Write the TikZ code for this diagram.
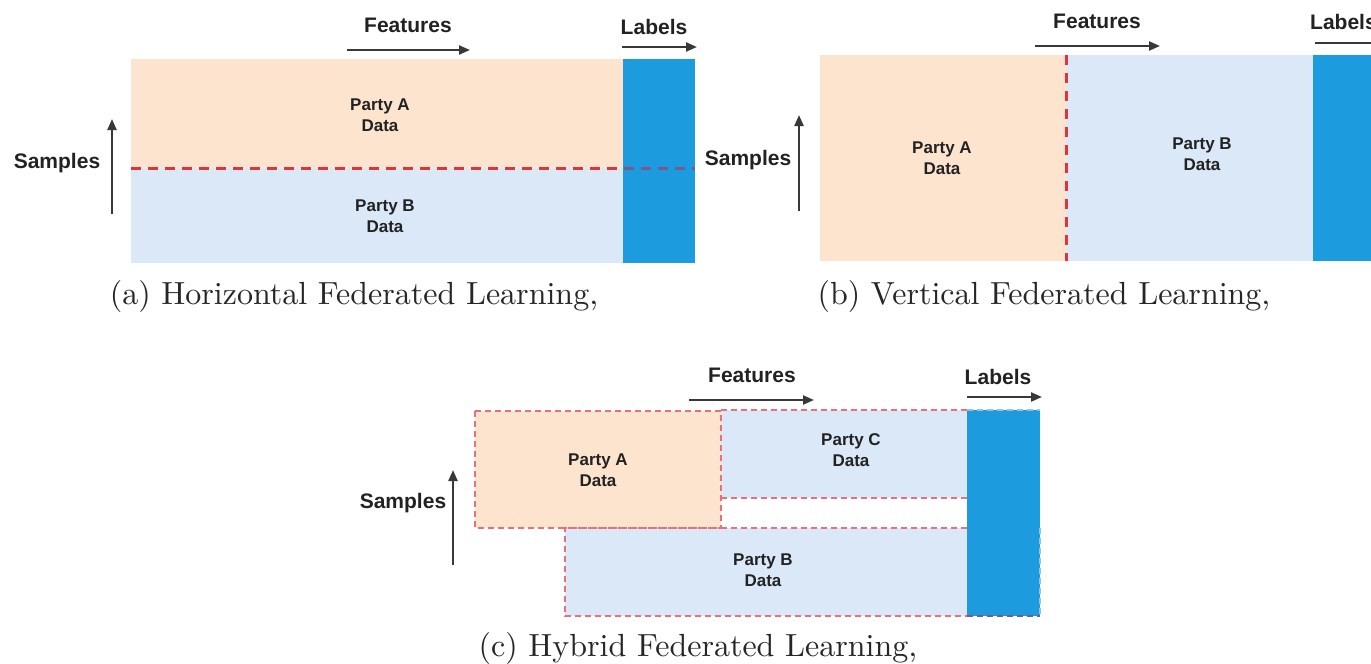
\documentclass[tikz,border=0pt]{standalone}
\usepackage{fontspec}
\newfontfamily\labfont{Liberation Sans}
\newfontfamily\capfont{lmroman10-regular}[Extension=.otf]
\usetikzlibrary{arrows.meta}

\definecolor{partyA}{HTML}{FDE4CF}
\definecolor{partyB}{HTML}{DAE8F8}
\definecolor{labelcol}{HTML}{1C9CDF}
\definecolor{cut}{HTML}{E0333A}
\definecolor{cutlight}{HTML}{E8707A}
\definecolor{cutover}{HTML}{7A5A8C}
\definecolor{edgeover}{HTML}{8FC4EA}
\definecolor{ink}{HTML}{222222}

\tikzset{
  axislabel/.style={font=\labfont\bfseries\fontsize{21}{24}\selectfont, text=ink, inner sep=0pt},
  partytext/.style={font=\labfont\bfseries\fontsize{17}{21}\selectfont, text=ink, align=center, inner sep=0pt},
  axisarrow/.style={draw=ink!90, line width=2.2pt, -{Triangle[length=11pt,width=9pt]}},
  captiontext/.style={font=\capfont\fontsize{32}{38}\selectfont, text=black!85, inner sep=0pt},
  splitline/.style={draw=cut, line width=3pt, dash pattern=on 10pt off 7pt},
  outline/.style={draw=cutlight, line width=1.9pt, dash pattern=on 6pt off 4pt},
}

\begin{document}
\begin{tikzpicture}[x=1pt, y=-1pt]
\clip (0,0) rectangle (1371,664);
\fill[white] (0,0) rectangle (1371,664);

% ---------------- (a) horizontal federated learning ----------------
\fill[partyA]   (131,59)  rectangle (623,168);
\fill[partyB]   (131,168) rectangle (623,263);
\fill[labelcol] (623,59)  rectangle (695,263);
\draw[splitline] (131,168) -- (623,168);
\draw[splitline, draw=cutover, dash phase=16pt] (623,168) -- (695,168);

\node[partytext] (aA) at (380,115) {Party A\\Data};
\node[partytext] (aB) at (385,216) {Party B\\Data};

\node[axislabel] (aFeat) at (408,25) {Features};
\coordinate (aF1) at (347,50);
\coordinate (aF2) at (470,50);
\draw[axisarrow] (aF1) -- (aF2);

\node[axislabel] (aLab) at (654,27) {Labels};
\coordinate (aL1) at (622,47);
\coordinate (aL2) at (697,47);
\draw[axisarrow] (aL1) -- (aL2);

\node[axislabel] (aSam) at (57,163) {Samples};
\coordinate (aS1) at (112,214);
\coordinate (aS2) at (112,119);
\draw[axisarrow] (aS1) -- (aS2);

\node[captiontext] (capA) at (354,296) {(a) Horizontal Federated Learning,};

% ---------------- (b) vertical federated learning ----------------
\fill[partyA]   (820,55)  rectangle (1066,261);
\fill[partyB]   (1066,55) rectangle (1313,261);
\fill[labelcol] (1313,55) rectangle (1380,261);
\draw[splitline, dash pattern=on 10pt off 8pt] (1066,55) -- (1066,261);

\node[partytext] (bA) at (942,158) {Party A\\Data};
\node[partytext] (bB) at (1202,154) {Party B\\Data};

\node[axislabel] (bFeat) at (1097,21) {Features};
\coordinate (bF1) at (1035,46);
\coordinate (bF2) at (1160,46);
\draw[axisarrow] (bF1) -- (bF2);

% the label column continues past the right edge, so its heading is cut
\node[axislabel, anchor=west] (bLab) at (1310,22) {Labels};
\coordinate (bL1) at (1315,43);
\coordinate (bL2) at (1395,43);
\draw[axisarrow] (bL1) -- (bL2);

\node[axislabel] (bSam) at (748,160) {Samples};
\coordinate (bS1) at (799,211);
\coordinate (bS2) at (799,115);
\draw[axisarrow] (bS1) -- (bS2);

\node[captiontext] (capB) at (1044,296) {(b) Vertical Federated Learning,};

% ---------------- (c) hybrid federated learning ----------------
\fill[partyA]   (475,411) rectangle (721,528);
\fill[partyB]   (721,410) rectangle (967,498);
\fill[partyB]   (565,528) rectangle (967,616);
\fill[labelcol] (967,410) rectangle (1040,616);

% party outlines
\draw[outline] (475,411) rectangle (721,528);
\draw[outline] (721,410) -- (967,410);
\draw[outline] (721,498) -- (967,498);
\draw[outline] (967,528) -- (565,528) -- (565,616) -- (967,616);
% outline parts running over the label column
\draw[outline, draw=edgeover] (967,410) -- (1040,410);
\draw[outline, draw=edgeover] (1040,528) -- (1040,616);
\draw[outline, draw=cutover] (967,616) -- (1040,616);

\node[partytext] (cA) at (598,470) {Party A\\Data};
\node[partytext] (cC) at (851,450) {Party C\\Data};
\node[partytext] (cB) at (763,570) {Party B\\Data};

\node[axislabel] (cFeat) at (752,375) {Features};
\coordinate (cF1) at (689,400);
\coordinate (cF2) at (814,400);
\draw[axisarrow] (cF1) -- (cF2);

\node[axislabel] (cLab) at (998,377) {Labels};
\coordinate (cL1) at (967,397);
\coordinate (cL2) at (1042,397);
\draw[axisarrow] (cL1) -- (cL2);

\node[axislabel] (cSam) at (403,503) {Samples};
\coordinate (cS1) at (453,565);
\coordinate (cS2) at (453,470);
\draw[axisarrow] (cS1) -- (cS2);

\node[captiontext] (capC) at (698,648) {(c) Hybrid Federated Learning,};
\end{tikzpicture}
\end{document}
